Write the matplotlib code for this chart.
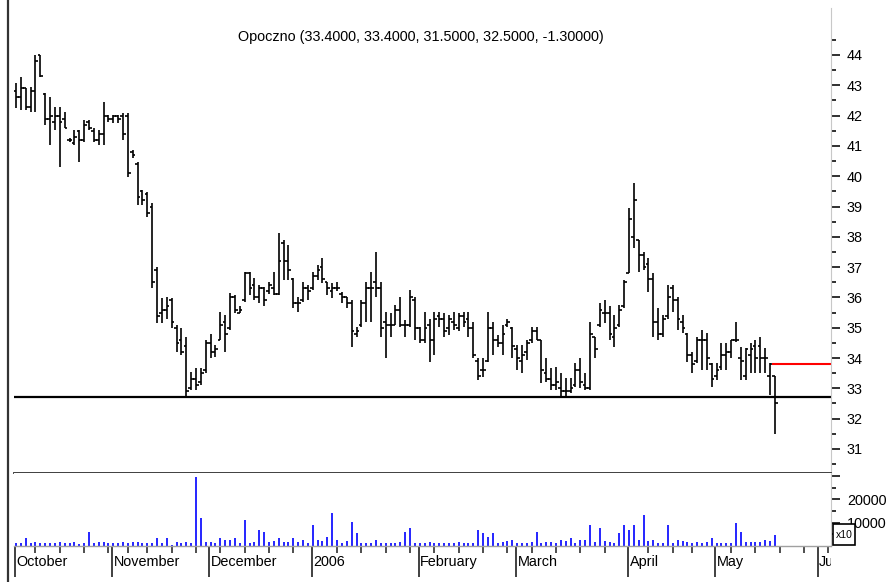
import matplotlib
matplotlib.use('Agg')
import numpy as np
import matplotlib.pyplot as plt
import matplotlib.font_manager as fm
import matplotlib.transforms as mtransforms
from matplotlib.patches import Rectangle
from matplotlib.lines import Line2D

# ---- data ----
title = 'Opoczno (33.4000, 33.4000, 31.5000, 32.5000, -1.30000)'

opens = [42.8, 42.6, 42.9, 42.3, 42.8, 44.0, 42.7, 41.9, 41.8, 42.0,
         41.9, 41.2, 41.1, 41.5, 41.2, 41.8, 41.5, 41.2, 41.4, 42.0,
         41.9, 42.0, 42.0, 42.0, 40.8, 40.4, 39.5, 39.4, 39.0, 36.9,
         35.5, 35.6, 35.9, 35.0, 34.6, 34.4, 33.0, 33.3, 33.2, 33.6,
         34.5, 34.2, 34.6, 35.2, 35.0, 36.0, 35.5, 35.9, 36.8, 36.4,
         36.0, 36.3, 36.2, 36.3, 36.1, 37.8, 37.2, 36.6, 35.8, 35.9,
         36.3, 36.3, 36.7, 37.0, 36.5, 36.2, 36.3, 36.1, 36.0, 35.8,
         34.8, 35.1, 35.8, 36.3, 36.5, 36.3, 35.2, 35.1, 35.1, 35.6,
         35.1, 35.1, 35.9, 35.0, 34.6, 35.1, 34.6, 35.4, 35.3, 35.0,
         35.2, 35.0, 35.4, 35.3, 35.0, 33.9, 33.6, 33.9, 35.0, 34.6,
         34.5, 35.1, 35.0, 34.3, 33.9, 34.2, 34.6, 34.9, 34.6, 33.5,
         33.3, 33.1, 33.0, 32.9, 32.9, 33.1, 33.6, 33.1, 33.0, 34.7,
         35.1, 35.5, 35.5, 34.7, 35.1, 35.7, 36.8, 38.0, 37.9, 37.4,
         37.1, 36.6, 35.2, 34.8, 35.4, 36.3, 35.9, 35.2, 34.8, 34.1,
         33.9, 34.6, 34.6, 33.8, 33.4, 33.7, 34.1, 34.2, 34.6, 34.0,
         33.4, 34.1, 34.4, 34.4, 34.0, 33.4, 33.4]

highs = [43.07, 43.28, 42.90, 42.95, 44.00, 44.00, 42.74, 42.62, 42.29, 42.29,
         42.13, 41.26, 41.52, 41.52, 41.85, 41.85, 41.60, 41.52, 42.46, 42.02,
         42.02, 42.02, 42.08, 42.08, 40.86, 40.48, 39.54, 39.49, 39.10, 37.00,
         35.98, 36.00, 35.98, 35.09, 35.00, 34.70, 33.55, 33.67, 33.67, 34.60,
         34.80, 34.43, 35.53, 35.42, 36.14, 36.08, 35.70, 36.85, 36.85, 36.64,
         36.40, 36.35, 36.50, 36.85, 38.11, 37.90, 37.73, 36.64, 36.02, 36.50,
         36.40, 36.85, 37.07, 37.30, 36.50, 36.47, 36.50, 36.19, 36.02, 35.90,
         35.03, 35.90, 36.50, 36.85, 37.50, 36.50, 35.53, 35.48, 35.75, 36.02,
         35.25, 36.24, 36.02, 35.03, 35.53, 35.30, 35.53, 35.53, 35.47, 35.42,
         35.53, 35.47, 35.53, 35.53, 35.20, 33.99, 33.99, 35.53, 35.20, 34.76,
         35.09, 35.30, 35.03, 34.43, 34.43, 34.60, 35.03, 35.03, 34.60, 33.99,
         33.66, 33.70, 33.50, 33.33, 33.33, 33.82, 34.00, 33.50, 35.20, 34.70,
         35.80, 35.90, 35.70, 35.42, 35.75, 36.57, 38.94, 39.77, 37.89, 37.50,
         37.30, 36.80, 35.64, 35.42, 36.40, 36.40, 36.02, 35.42, 34.82, 34.20,
         34.70, 34.92, 34.82, 33.82, 33.82, 34.49, 34.49, 34.60, 35.20, 34.37,
         34.32, 34.49, 34.60, 34.70, 34.32, 33.82, 33.40]

lows = [42.24, 42.18, 42.18, 42.13, 42.13, 43.28, 41.69, 41.03, 41.52, 40.31,
        41.58, 41.13, 41.03, 40.48, 41.14, 41.52, 41.14, 41.03, 41.03, 41.80,
        41.75, 41.75, 41.20, 39.98, 40.60, 39.05, 39.05, 38.66, 36.30, 35.15,
        35.15, 35.30, 35.00, 34.20, 34.10, 32.72, 32.94, 32.94, 33.10, 33.50,
        34.00, 34.04, 34.60, 34.20, 34.92, 35.48, 35.47, 35.86, 36.07, 35.90,
        35.80, 35.70, 36.10, 36.08, 36.08, 36.57, 36.57, 35.65, 35.53, 35.86,
        35.90, 36.24, 36.57, 36.47, 36.08, 35.98, 36.20, 35.80, 35.65, 34.37,
        34.70, 35.03, 35.20, 35.20, 36.02, 34.70, 33.99, 34.70, 35.09, 35.03,
        34.70, 35.03, 34.60, 34.49, 34.49, 33.88, 34.10, 35.03, 34.70, 34.76,
        34.92, 34.90, 35.03, 34.70, 33.99, 33.27, 33.37, 33.88, 34.10, 34.37,
        34.10, 35.03, 33.99, 33.60, 33.50, 33.93, 34.49, 34.60, 33.16, 33.22,
        32.94, 32.94, 32.72, 32.72, 32.83, 33.05, 33.00, 32.94, 32.94, 33.99,
        35.03, 35.14, 34.60, 34.37, 35.03, 35.64, 36.80, 37.62, 36.85, 36.90,
        36.19, 34.70, 34.60, 34.70, 35.30, 35.53, 34.92, 34.82, 33.88, 33.49,
        33.82, 33.60, 33.60, 33.05, 33.27, 33.60, 33.60, 33.99, 34.54, 33.27,
        33.27, 33.49, 33.49, 33.49, 33.49, 32.78, 31.50]

closes = [42.6, 42.9, 42.3, 42.8, 43.8, 43.3, 41.9, 42.0, 42.0, 41.8,
          41.6, 41.2, 41.3, 41.2, 41.7, 41.6, 41.2, 41.4, 42.0, 41.9,
          42.0, 41.9, 41.4, 40.1, 40.7, 39.3, 39.2, 38.8, 36.5, 35.4,
          35.6, 35.7, 35.2, 34.5, 34.2, 32.9, 33.3, 33.1, 33.5, 34.5,
          34.2, 34.3, 35.1, 34.8, 36.0, 35.6, 35.6, 36.8, 36.3, 36.0,
          36.3, 35.9, 36.4, 36.1, 37.2, 37.2, 36.9, 35.8, 35.8, 36.3,
          36.2, 36.7, 36.9, 36.6, 36.3, 36.3, 36.3, 36.0, 35.8, 34.9,
          34.9, 35.8, 36.3, 36.3, 36.3, 35.0, 35.1, 35.1, 35.6, 35.1,
          35.1, 36.0, 35.0, 34.6, 35.0, 34.6, 35.3, 35.3, 34.9, 35.3,
          35.1, 35.4, 35.2, 35.0, 34.1, 33.4, 33.6, 35.0, 34.6, 34.5,
          34.8, 35.2, 34.4, 34.0, 34.1, 34.5, 34.9, 34.6, 33.6, 33.3,
          33.1, 33.2, 32.9, 32.9, 33.0, 33.6, 33.2, 33.0, 34.8, 34.3,
          35.6, 35.5, 34.8, 35.0, 35.6, 36.5, 38.6, 39.2, 37.4, 37.0,
          36.6, 35.2, 34.8, 35.3, 36.0, 35.9, 35.3, 35.0, 34.1, 33.8,
          34.6, 34.6, 34.0, 33.3, 33.6, 34.1, 34.2, 34.6, 34.6, 33.9,
          34.3, 34.3, 34.0, 34.0, 34.0, 33.8, 32.5]

volume = [1100, 1100, 3300, 1100, 1900, 1100, 1100, 1100, 1100, 1900,
          1100, 1100, 1900, 700, 1100, 6100, 1400, 1900, 1900, 1100,
          1100, 1100, 1900, 1100, 1900, 1900, 1400, 1100, 1400, 3300,
          1100, 3300, 400, 1900, 1100, 1900, 1100, 29400, 11900, 1900,
          1900, 1400, 3300, 2600, 2600, 3300, 1100, 11100, 1100, 1900,
          6900, 6100, 1900, 2100, 3300, 1900, 1900, 3300, 1900, 2600,
          1400, 9000, 2600, 2100, 4000, 14000, 2600, 1400, 2100, 10400,
          5400, 1100, 1100, 1400, 2600, 1100, 1100, 1400, 1400, 1900,
          6100, 7600, 1100, 1100, 1100, 1900, 1100, 1100, 1100, 1100,
          1100, 1900, 1100, 1100, 1100, 6900, 5400, 4000, 5400, 1100,
          1900, 2100, 2600, 1100, 1100, 1400, 1900, 6100, 1400, 1900,
          1900, 1100, 2600, 2100, 3300, 1100, 2600, 2600, 9000, 1900,
          7600, 2100, 1900, 1100, 5400, 9000, 6900, 9000, 2600, 13300,
          2100, 2600, 1100, 1400, 9000, 1100, 2600, 2100, 1900, 1100,
          1900, 1400, 1900, 3300, 1100, 1100, 1100, 1100, 9700, 6100,
          1900, 1900, 1900, 1900, 2600, 2100, 4700]

month_labels = ['October', 'November', 'December', '2006', 'February',
                'March', 'April', 'May', 'June']
month_start = [0, 20, 40, 61, 83, 103, 126, 144, 165]
week_ticks = [4, 9, 14, 19, 23, 27, 32, 37, 42, 47, 52, 57, 66, 71, 76, 81,
              86, 91, 96, 101, 106, 111, 116, 121, 130, 135, 139, 147, 152,
              157, 162, 167]
support_level = 32.72
prev_close = 33.8
price_ticks = list(range(31, 45))
vol_ticks = [10000, 20000, 30000]
vol_tick_labels = ['10000', '20000', '']

# ---- fonts ----
try:
    fm.findfont('Liberation Sans Narrow', fallback_to_default=False)
    fam, fsize = 'Liberation Sans Narrow', 12.5
except Exception:
    fam, fsize = 'Liberation Sans', 10.4
plt.rcParams['font.family'] = [fam, 'DejaVu Sans']

# ---- layout (pixel based) ----
W, H = 889, 582
def fx(px):
    return px / W
def fy(py):
    return 1 - py / H

L_PX, R_PX = 14, 831
x_left = (L_PX - 16) / 4.865
x_right = (R_PX - 16) / 4.865

fig = plt.figure(figsize=(W / 100, H / 100), dpi=100)
fig.patch.set_facecolor('white')

ax = fig.add_axes([fx(L_PX), fy(473), (R_PX - L_PX) / W, (473 - 8) / H])
axv = fig.add_axes([fx(L_PX), fy(546), (R_PX - L_PX) / W, (546 - 473) / H])

x = np.arange(len(closes))
o = np.array(opens); c = np.array(closes)

# price bars
ax.vlines(x, lows, highs, color='black', lw=1.2)
ax.hlines(o, x - 0.55, x, color='black', lw=1.2)
ax.hlines(c, x, x + 0.55, color='black', lw=1.2)
ax.axhline(support_level, color='black', lw=1.6)
ax.hlines(prev_close, x[-1] - 0.6, x_right, color='#ff0000', lw=1.5)

ax.set_xlim(x_left, x_right)
ax.set_ylim(34 - (473 - 358) / 30.3, 34 + (358 - 8) / 30.3)
ax.yaxis.tick_right()
ax.set_yticks(price_ticks)
ax.set_yticklabels([str(t) for t in price_ticks])
ax.set_yticks(np.arange(30.5, 45.0, 1.0), minor=True)
ax.tick_params(axis='y', which='major', length=6.5, width=1.3, pad=5,
               labelsize=fsize, colors='#202020', labelcolor='black')
ax.tick_params(axis='y', which='minor', length=3.5, width=1.3, colors='#202020')
ax.set_xticks([])
for s in ['top', 'left']:
    ax.spines[s].set_visible(False)
ax.spines['right'].set_color('#c8c8c8')
ax.spines['right'].set_linewidth(0.8)
ax.spines['bottom'].set_color('#303030')
ax.spines['bottom'].set_linewidth(1.3)

# volume bars
axv.vlines(x, 0, volume, color='#0000ff', lw=1.2)
axv.set_xlim(x_left, x_right)
axv.set_ylim(0, 73 / 23.35 * 10000)
axv.yaxis.tick_right()
axv.set_yticks(vol_ticks)
axv.set_yticklabels(vol_tick_labels)
axv.set_yticks([5000, 15000, 25000], minor=True)
axv.tick_params(axis='y', which='major', length=6.5, width=1.3, pad=5,
                labelsize=fsize, colors='#202020', labelcolor='black')
axv.tick_params(axis='y', which='minor', length=3.5, width=1.3, colors='#202020')
axv.set_xticks([m - 0.25 for m in month_start])
axv.set_xticks(week_ticks, minor=True)
axv.tick_params(axis='x', which='major', length=22.5, width=1.4,
                colors='#404040', labelbottom=False)
axv.tick_params(axis='x', which='minor', length=5, width=1.3, colors='#404040')
for s in ['top', 'left']:
    axv.spines[s].set_visible(False)
axv.spines['right'].set_color('#c8c8c8')
axv.spines['right'].set_linewidth(0.8)
axv.spines['bottom'].set_color('#a0a0a0')
axv.spines['bottom'].set_linewidth(1.0)

# month labels, clipped at the right edge like the original
clip_rect = Rectangle((0, 0), fx(R_PX), 1, transform=fig.transFigure,
                      facecolor='none', edgecolor='none')
trans = mtransforms.blended_transform_factory(axv.transData, axv.transAxes)
for m, lab in zip(month_start, month_labels):
    t = axv.text(m + 0.1, -0.22, lab, transform=trans, ha='left', va='center',
                 fontsize=fsize, color='black', clip_on=True)
    t.set_clip_path(clip_rect)

# title
fig.text(fx(421), fy(37), title, ha='center', va='center', fontsize=fsize,
         color='black')

# left frame line
fig.add_artist(Line2D([fx(7.5), fx(7.5)], [0, 1], color='#333333', lw=1.6))

# x10 box
fig.add_artist(Rectangle((fx(833), fy(545)), 22 / W, 21 / H,
                         transform=fig.transFigure, facecolor='white',
                         edgecolor='black', lw=1.2, zorder=5))
fig.text(fx(844), fy(534.5), 'x10', ha='center', va='center',
         fontsize=fsize * 0.72, color='black', zorder=6)

fig.savefig('out.png', dpi=100)
